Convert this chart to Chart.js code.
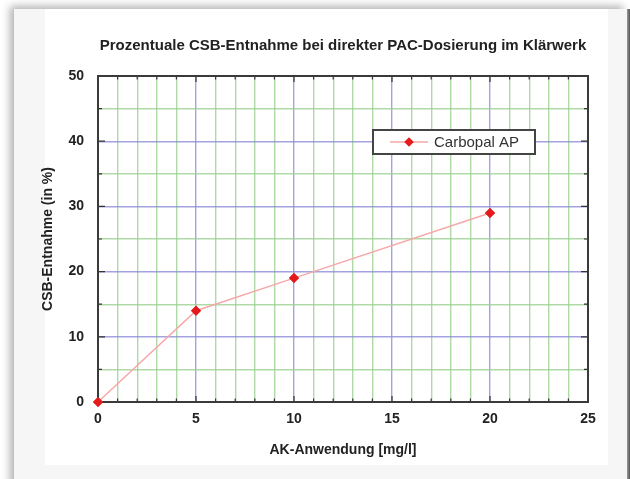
<!DOCTYPE html>
<html>
<head>
<meta charset="utf-8">
<script src="https://cdn.jsdelivr.net/npm/chart.js@4.4.1/dist/chart.umd.min.js"></script>
<style>
  html, body { margin: 0; padding: 0; background: #ffffff; width: 630px; height: 479px; overflow: hidden; }
  #card { position: absolute; left: 14px; top: 9px; width: 613px; height: 480px; background: #f6f6f6;
          box-shadow: -4px -3px 8px rgba(0,0,0,0.3); }
  #inner { position: absolute; left: 45px; top: 9px; width: 563px; height: 456px; background: #ffffff; }
  #edge { position: absolute; left: 627px; top: 9px; width: 3px; height: 480px; background: linear-gradient(to right, #9a9a9a, #555); }
  #wrap { position: absolute; left: 0; top: 0; width: 630px; height: 479px; }
</style>
</head>
<body>
<div id="card"></div>
<div id="inner"></div>
<div id="edge"></div>
<div id="wrap"><canvas id="c" width="630" height="479"></canvas></div>
<script>
const titleText = 'Prozentuale CSB-Entnahme bei direkter PAC-Dosierung im Klärwerk';
const xAxisTitle = 'AK-Anwendung [mg/l]';
const yAxisTitle = 'CSB-Entnahme (in %)';
const seriesName = 'Carbopal AP';
const xValues = [0, 5, 10, 20];
const yValues = [0, 14, 19, 29];
const xRange = [0, 25];
const yRange = [0, 50];

const BLUE = 'rgba(140,140,215,0.8)';
const GREEN = 'rgba(155,208,145,0.8)';
const FONT = "'Liberation Sans Narrow', 'Liberation Sans', Arial, sans-serif";

const frameTicks = {
  id: 'frameTicks',
  afterDatasetsDraw(chart) {
    const { ctx, chartArea: a, scales } = chart;
    ctx.save();
    ctx.strokeStyle = '#333';
    ctx.lineWidth = 1.2;
    const xs = scales.x, ys = scales.y;
    for (let v = xRange[0]; v <= xRange[1]; v++) {
      const px = xs.getPixelForValue(v);
      const len = v % 5 === 0 ? 6 : 3.5;
      ctx.beginPath();
      ctx.moveTo(px, a.bottom); ctx.lineTo(px, a.bottom - len);
      ctx.moveTo(px, a.top); ctx.lineTo(px, a.top + len);
      ctx.stroke();
    }
    for (let v = yRange[0]; v <= yRange[1]; v += 5) {
      const py = ys.getPixelForValue(v);
      const len = v % 10 === 0 ? 7 : 4;
      ctx.beginPath();
      ctx.moveTo(a.left, py); ctx.lineTo(a.left + len, py);
      ctx.moveTo(a.right, py); ctx.lineTo(a.right - len, py);
      ctx.stroke();
    }
    ctx.lineWidth = 2;
    ctx.strokeStyle = '#3a3a3a';
    ctx.strokeRect(a.left, a.top, a.right - a.left, a.bottom - a.top);
    ctx.restore();
    // redraw dataset points on top of the frame
    chart.getDatasetMeta(0).data.forEach(p => p.draw(ctx, undefined));
  },
  afterDraw(chart) {
    const { ctx, chartArea: a } = chart;
    const ds = chart.data.datasets[0];
    const bx = a.left + 275, by = a.top + 54, bw = 162, bh = 24;
    ctx.save();
    ctx.fillStyle = '#fff';
    ctx.fillRect(bx, by, bw, bh);
    ctx.strokeStyle = '#444';
    ctx.lineWidth = 2;
    ctx.strokeRect(bx, by, bw, bh);
    const cy = by + bh / 2;
    ctx.strokeStyle = ds.borderColor;
    ctx.lineWidth = 1.5;
    ctx.beginPath(); ctx.moveTo(bx + 17, cy); ctx.lineTo(bx + 55, cy); ctx.stroke();
    ctx.fillStyle = ds.pointBackgroundColor;
    const r = 4.8, mx = bx + 36;
    ctx.beginPath();
    ctx.moveTo(mx, cy - r); ctx.lineTo(mx + r, cy); ctx.lineTo(mx, cy + r); ctx.lineTo(mx - r, cy); ctx.closePath();
    ctx.fill();
    ctx.fillStyle = '#333';
    ctx.font = "15px 'Liberation Sans', Arial, sans-serif";
    ctx.textBaseline = 'middle';
    ctx.fillText(ds.label, bx + 61, cy + 0.5);
    ctx.restore();
  }
};

new Chart(document.getElementById('c'), {
  type: 'scatter',
  data: {
    datasets: [{
      label: seriesName,
      data: xValues.map((x, i) => ({ x, y: yValues[i] })),
      showLine: true,
      borderColor: '#f6a8a8',
      borderWidth: 1.5,
      pointStyle: 'rectRot',
      pointRadius: 5,
      pointBackgroundColor: '#e41a1c',
      pointBorderColor: '#e41a1c',
      pointBorderWidth: 0,
      clip: false
    }]
  },
  options: {
    responsive: false,
    animation: false,
    devicePixelRatio: 1,
    layout: { padding: { left: 36, right: 42, top: 0, bottom: 16 } },
    plugins: {
      legend: { display: false },
      tooltip: { enabled: false },
      title: {
        display: true,
        text: titleText,
        fullSize: false,
        color: '#222',
        font: { family: FONT, size: 15, weight: 'bold' },
        padding: { top: 37, bottom: 21 }
      }
    },
    scales: {
      x: {
        type: 'linear',
        min: xRange[0], max: xRange[1],
        afterFit(s) { s.height = 61; },
        ticks: {
          stepSize: 1, autoSkip: false, maxRotation: 0, padding: 9,
          color: '#222',
          font: { family: FONT, size: 14, weight: 'bold' },
          callback: v => (v % 5 === 0 ? String(v) : '')
        },
        grid: {
          drawTicks: false,
          lineWidth: 1.4,
          color: c => (c.tick && c.tick.value % 5 === 0 ? BLUE : GREEN)
        },
        border: { display: false },
        title: {
          display: true, text: xAxisTitle, color: '#222',
          font: { family: FONT, size: 14, weight: 'bold' },
          padding: { top: 4, bottom: 4 }
        }
      },
      y: {
        type: 'linear',
        min: yRange[0], max: yRange[1],
        afterFit(s) { s.width = 62; },
        ticks: {
          stepSize: 5, autoSkip: false, padding: 14,
          color: '#222',
          font: { family: FONT, size: 14, weight: 'bold' },
          callback: v => (v % 10 === 0 ? String(v) : '')
        },
        grid: {
          drawTicks: false,
          lineWidth: 1.4,
          color: c => (c.tick && c.tick.value % 10 === 0 ? BLUE : GREEN)
        },
        border: { display: false },
        title: {
          display: true, text: yAxisTitle, color: '#222',
          font: { family: FONT, size: 14, weight: 'bold' },
          padding: { top: 4, bottom: 4 }
        }
      }
    }
  },
  plugins: [frameTicks]
});
</script>
</body>
</html>
